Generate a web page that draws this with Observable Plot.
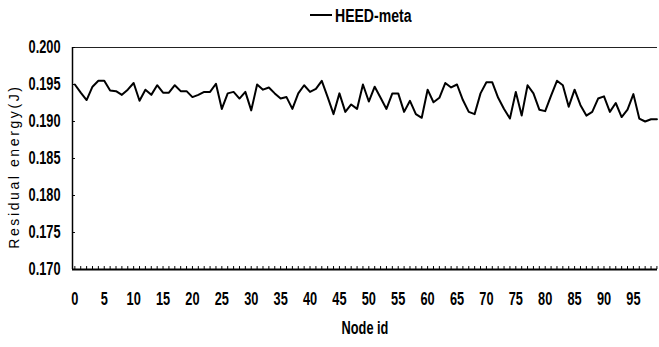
<!DOCTYPE html>
<html>
<head>
<meta charset="utf-8">
<script src="https://cdn.jsdelivr.net/npm/d3@7"></script>
<script src="https://cdn.jsdelivr.net/npm/@observablehq/plot@0.6"></script>
<style>
  html, body { margin: 0; padding: 0; background: #fff; }
  #legend { position: relative; width: 659px; height: 30px; font-family: "Liberation Sans", Arial, sans-serif; }
  #legend .swatch { position: absolute; left: 310px; top: 14px; width: 22px; height: 2px; background: #000; }
  #legend .label { position: absolute; left: 335px; top: 5px; font-size: 18px; font-weight: bold; line-height: 22px; color: #000; transform: scaleX(0.78); transform-origin: 0 50%; white-space: nowrap; }
  #chart svg { display: block; }
</style>
</head>
<body>
<div id="legend"><div class="swatch"></div><div class="label">HEED-meta</div></div>
<div id="chart"></div>
<script>
// Residual energy (J) of each node, HEED-meta, nodes 0..99
const energy = [
  0.1950, 0.1939, 0.1929, 0.1947, 0.1955, 0.1955, 0.1942, 0.1941, 0.1936, 0.1943,
  0.1952, 0.1928, 0.1943, 0.1936, 0.1949, 0.1939, 0.1939, 0.1949, 0.1941, 0.1941,
  0.1933, 0.1936, 0.1940, 0.1940, 0.1951, 0.1917, 0.1938, 0.1940, 0.1931, 0.1940,
  0.1915, 0.1950, 0.1943, 0.1946, 0.1938, 0.1931, 0.1933, 0.1917, 0.1938, 0.1949,
  0.1940, 0.1944, 0.1955, 0.1933, 0.1910, 0.1938, 0.1913, 0.1923, 0.1917, 0.1950,
  0.1927, 0.1947, 0.1932, 0.1917, 0.1938, 0.1938, 0.1913, 0.1928, 0.1910, 0.1905,
  0.1943, 0.1926, 0.1932, 0.1952, 0.1946, 0.1950, 0.1929, 0.1913, 0.1910, 0.1938,
  0.1953, 0.1953, 0.1932, 0.1917, 0.1904, 0.1940, 0.1908, 0.1949, 0.1938, 0.1916,
  0.1914, 0.1935, 0.1955, 0.1949, 0.1920, 0.1943, 0.1922, 0.1908, 0.1913, 0.1931,
  0.1934, 0.1913, 0.1925, 0.1906, 0.1916, 0.1937, 0.1904, 0.1900, 0.1903, 0.1903
];
const xTicks = [0, 5, 10, 15, 20, 25, 30, 35, 40, 45, 50, 55, 60, 65, 70, 75, 80, 85, 90, 95];
const yTicks = [0.170, 0.175, 0.180, 0.185, 0.190, 0.195, 0.200];
const seriesName = "HEED-meta";
const xTitle = "Node id";
const yTitle = "Residual energy(J)";

const data = energy.map((e, i) => ({node: i, energy: e}));

const chart = Plot.plot({
  width: 659,
  height: 317,
  marginLeft: 72,
  marginRight: 2,
  marginTop: 17,
  marginBottom: 78,
  style: {fontFamily: '"Liberation Sans", Arial, sans-serif', fontSize: "18px", fontWeight: "bold", background: "#fff", color: "#000", overflow: "visible"},
  x: {domain: [-0.4, 99.1]},
  y: {domain: [0.170, 0.200]},
  marks: [
    Plot.ruleY([0.200], {stroke: "#222", strokeWidth: 1}),
    Plot.ruleX(data, {x: "node", y1: 0.170, y2: 0.1704, stroke: "#000", strokeWidth: 1}),
    Plot.ruleY(yTicks, {x1: -0.4, x2: 0.1, stroke: "#000", strokeWidth: 1}),
    Plot.ruleX([-0.4], {y1: 0.170, y2: 0.200, stroke: "#000", strokeWidth: 1.5}),
    Plot.ruleY([0.170], {stroke: "#000", strokeWidth: 2}),
    Plot.axisY({ticks: yTicks, tickSize: 0, tickPadding: 12, tickFormat: d3.format(".3f"), label: null}),
    Plot.axisX({ticks: xTicks, tickSize: 0, tickPadding: 23, tickFormat: d => String(d), label: null}),
    Plot.line(data, {x: "node", y: "energy", stroke: "#000", strokeWidth: 2}),
    Plot.text([xTitle], {text: d => d, frameAnchor: "bottom", dy: 64, fontSize: 18}),
    Plot.text([yTitle], {text: d => d, x: -10.27, y: 0.1839, rotate: -90, fontSize: 14})
  ]
});
document.getElementById("chart").appendChild(chart);
document.querySelector("#legend .label").textContent = seriesName;
chart.querySelectorAll("text").forEach(t => {
  if (t.textContent === yTitle) {
    t.style.fontFamily = '"Liberation Sans", Arial, sans-serif';
    t.style.fontWeight = "normal";
    t.style.letterSpacing = "2.6px";
  } else {
    const tr = t.getAttribute("transform") || "";
    t.setAttribute("transform", tr + " scale(0.71,1)");
  }
});
</script>
</body>
</html>
